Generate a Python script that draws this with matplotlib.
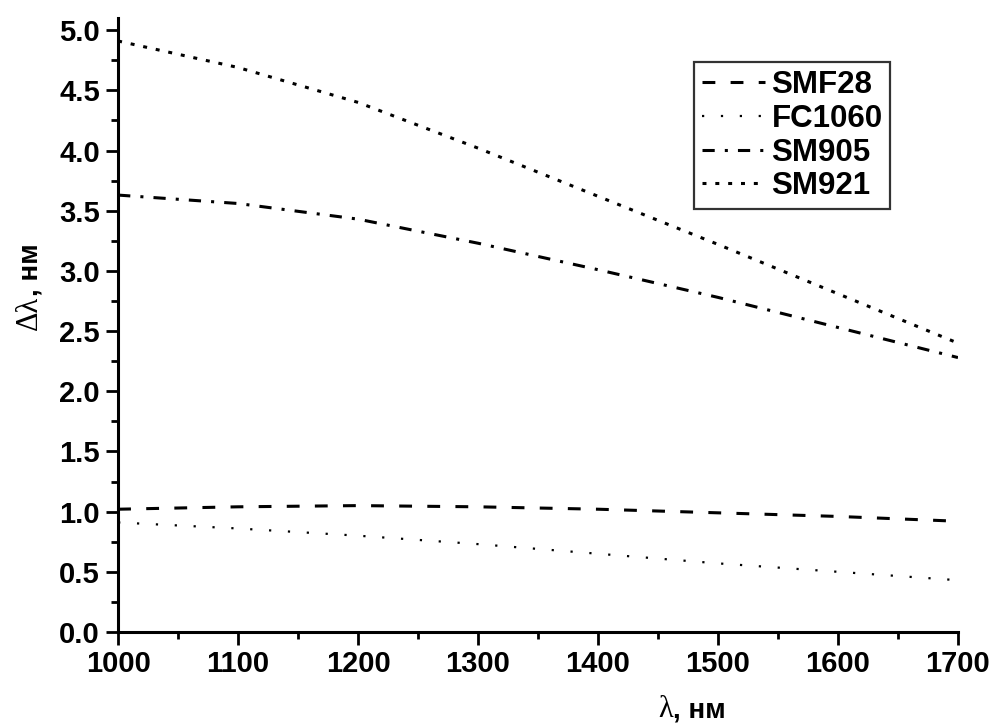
import numpy as np
import matplotlib.pyplot as plt
from matplotlib.ticker import MultipleLocator

# ---------------- DATA ----------------
wavelength = [1000, 1100, 1200, 1300, 1400, 1500, 1600, 1700]
smf28 = [1.02, 1.04, 1.05, 1.04, 1.02, 0.99, 0.96, 0.92]
fc1060 = [0.91, 0.86, 0.80, 0.73, 0.65, 0.57, 0.50, 0.43]
sm905 = [3.63, 3.56, 3.43, 3.23, 3.01, 2.78, 2.53, 2.28]
sm921 = [4.91, 4.69, 4.40, 4.02, 3.62, 3.22, 2.81, 2.40]

# ---------------- STYLE ----------------
plt.rcParams['font.family'] = 'Liberation Sans'
plt.rcParams['font.weight'] = 'bold'

fig = plt.figure(figsize=(10.01, 7.26), dpi=100)
ax = fig.add_axes([0.118, 0.1295, 0.839, 0.8455])

ax.plot(wavelength, smf28, color='black', lw=2.2, ls=(0, (4.2, 5.0)), label='SMF28')
ax.plot(wavelength, fc1060, color='black', lw=1.6, ls=(0, (1, 7.5)), label='FC1060')
ax.plot(wavelength, sm905, color='black', lw=2.2, ls=(0, (4, 3.3, 1, 3.3)), label='SM905')
ax.plot(wavelength, sm921, color='black', lw=2.2, ls=(0, (1.3, 2.9)), label='SM921')

ax.set_xlim(1000, 1700)
ax.set_ylim(0, 5.1)
ax.xaxis.set_major_locator(MultipleLocator(100))
ax.xaxis.set_minor_locator(MultipleLocator(50))
ax.yaxis.set_major_locator(MultipleLocator(0.5))
ax.yaxis.set_minor_locator(MultipleLocator(0.25))
ax.yaxis.set_major_formatter(plt.FormatStrFormatter('%.1f'))

for side in ['top', 'right']:
    ax.spines[side].set_visible(False)
for side in ['left', 'bottom']:
    ax.spines[side].set_linewidth(2.2)

ax.tick_params(which='major', direction='out', length=9, width=2, labelsize=21, pad=4)
ax.tick_params(which='minor', direction='out', length=5, width=2)
for lbl in ax.get_xticklabels() + ax.get_yticklabels():
    lbl.set_fontweight('bold')

# axis titles: plain serif Greek symbol, then bold sans units
serif = dict(family='Liberation Serif', fontweight='normal', fontsize=22)
units = dict(family='Liberation Sans', fontweight='bold', fontsize=20)

fig.text(0.672, 0.012, 'λ', ha='right', va='baseline', **serif)
fig.text(0.672, 0.012, ', нм', ha='left', va='baseline', **units)

fig.text(0.037, 0.592, 'Δλ', ha='right', va='baseline', rotation=90,
         rotation_mode='anchor', **serif)
fig.text(0.037, 0.592, ', нм', ha='left', va='baseline', rotation=90,
         rotation_mode='anchor', **units)

leg = ax.legend(loc='upper left', bbox_to_anchor=(0.686, 0.928), fontsize=22.5,
                frameon=True, fancybox=False, edgecolor='black',
                handlelength=2.0, handletextpad=0.22, labelspacing=0.12,
                borderpad=0.25, borderaxespad=0)
leg.get_frame().set_linewidth(1.6)
for t in leg.get_texts():
    t.set_fontweight('bold')

fig.savefig('out.png', dpi=100)
